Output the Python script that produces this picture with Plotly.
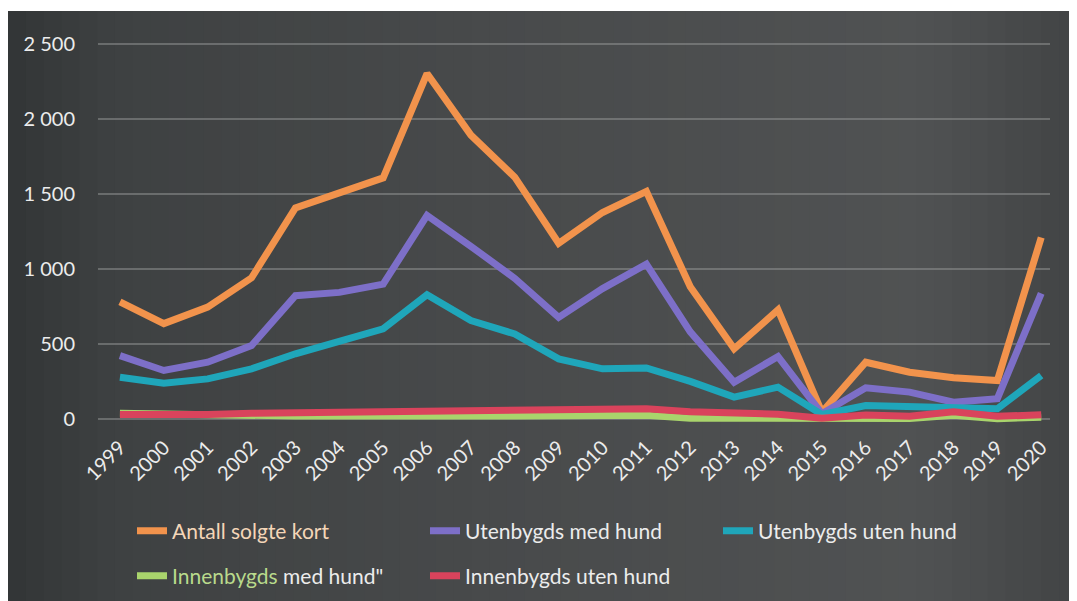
import plotly.graph_objects as go

years = [str(y) for y in range(1999, 2021)]

antall_solgte = [780, 635, 745, 940, 1405, 1505, 1605, 2300, 1890, 1610, 1170,
                 1375, 1515, 880, 467, 726, 45, 378, 311, 274, 256, 1208]
utenbygds_med = [422, 323, 378, 489, 821, 843, 898, 1355, 1150, 936, 677,
                 868, 1031, 580, 245, 416, 35, 208, 179, 112, 135, 836]
utenbygds_uten = [278, 238, 267, 334, 434, 522, 600, 827, 655, 566, 400,
                  334, 340, 250, 146, 212, 30, 90, 84, 84, 68, 290]
innenbygds_med = [38, 32, 25, 22, 20, 20, 18, 18, 20, 20, 22,
                  25, 25, 5, 5, 10, 0, 3, 3, 25, 2, 12]
innenbygds_uten = [30, 25, 30, 38, 42, 45, 48, 50, 55, 58, 62,
                   70, 68, 48, 45, 32, 5, 26, 18, 48, 18, 28]

series = [
    ('<span style="color:#f4d6b8">Antall solgte kort</span>', antall_solgte, "#f2934c", "legend"),
    ("Utenbygds med hund", utenbygds_med, "#7d6fc8", "legend"),
    ("Utenbygds uten hund", utenbygds_uten, "#1fa6ba", "legend"),
    ('<span style="color:#b9da8c">Innenbygds</span> med hund"', innenbygds_med, "#a9d46c", "legend2"),
    ("Innenbygds uten hund", innenbygds_uten, "#d9435c", "legend2"),
]

# the page body adds an 8px margin, so the figure is sized to fit inside it
OFF = 8
W, H = 1077 - OFF, 601 - OFF
PL, PR, PT, PB = 98 - OFF, 1050 - OFF, 42 - OFF, 424.6 - OFF


def px_x(x):
    return (x - OFF - PL) / (PR - PL)


def px_y(y):
    return (PB - (y - OFF)) / (PB - PT)


def cont_x(x):
    return (x - OFF) / W


def cont_y(y):
    return (H - (y - OFF)) / H


fig = go.Figure()
for name, values, color, legend in series:
    fig.add_trace(go.Scatter(
        x=years, y=values, mode="lines", name=name,
        line={"color": color, "width": 7},
        legend=legend,
    ))

# dark scanned panel with a soft horizontal gradient
shapes = []
stops = [(0.0, (50, 53, 54)), (0.1, (62, 65, 66)), (0.45, (72, 74, 75)),
         (0.85, (80, 82, 83)), (1.0, (66, 68, 69))]
n = 60
x_left, x_right = 8, 1077
for i in range(n):
    t = (i + 0.5) / n
    for (t0, c0), (t1, c1) in zip(stops, stops[1:]):
        if t0 <= t <= t1:
            f = (t - t0) / (t1 - t0)
            c = tuple(round(a + (b - a) * f) for a, b in zip(c0, c1))
            break
    xa = x_left + (x_right - x_left) * i / n
    xb = x_left + (x_right - x_left) * (i + 1) / n + 1
    shapes.append(dict(
        type="rect", xref="paper", yref="paper", layer="below",
        x0=px_x(xa), x1=px_x(xb), y0=px_y(610), y1=px_y(11),
        fillcolor=f"rgb{c}", line={"width": 0},
    ))

legend_style = {
    "orientation": "h", "xref": "container", "yref": "container",
    "x": cont_x(132), "xanchor": "left", "yanchor": "middle",
    "entrywidth": 248, "entrywidthmode": "pixels",
    "bgcolor": "rgba(0,0,0,0)", "font": {"size": 21, "color": "#ececec"},
}

fig.update_layout(
    width=W, height=H,
    paper_bgcolor="white",
    plot_bgcolor="rgba(0,0,0,0)",
    margin={"l": PL, "r": W - PR, "t": PT, "b": H - PB, "pad": 0, "autoexpand": False},
    font={"family": "Lato, 'Open Sans', sans-serif", "color": "#ececec", "size": 20},
    separators=", ",
    shapes=shapes,
    xaxis={
        "type": "category",
        "range": [-0.5, 21.2],
        "tickangle": -45,
        "tickfont": {"size": 20, "color": "#ececec"},
        "showgrid": False,
        "showline": False,
        "ticks": "",
        "ticklabelstandoff": 6,
    },
    yaxis={
        "range": [-40, 2510],
        "tick0": 0,
        "dtick": 500,
        "tickformat": ",d",
        "tickfont": {"size": 20, "color": "#ececec"},
        "gridcolor": "rgba(150,152,152,0.5)",
        "gridwidth": 1.5,
        "zeroline": False,
        "showline": False,
        "ticklabelstandoff": 22,
    },
    legend={**legend_style, "y": cont_y(531)},
    legend2={**legend_style, "y": cont_y(576)},
)

fig.write_html("out.html")
